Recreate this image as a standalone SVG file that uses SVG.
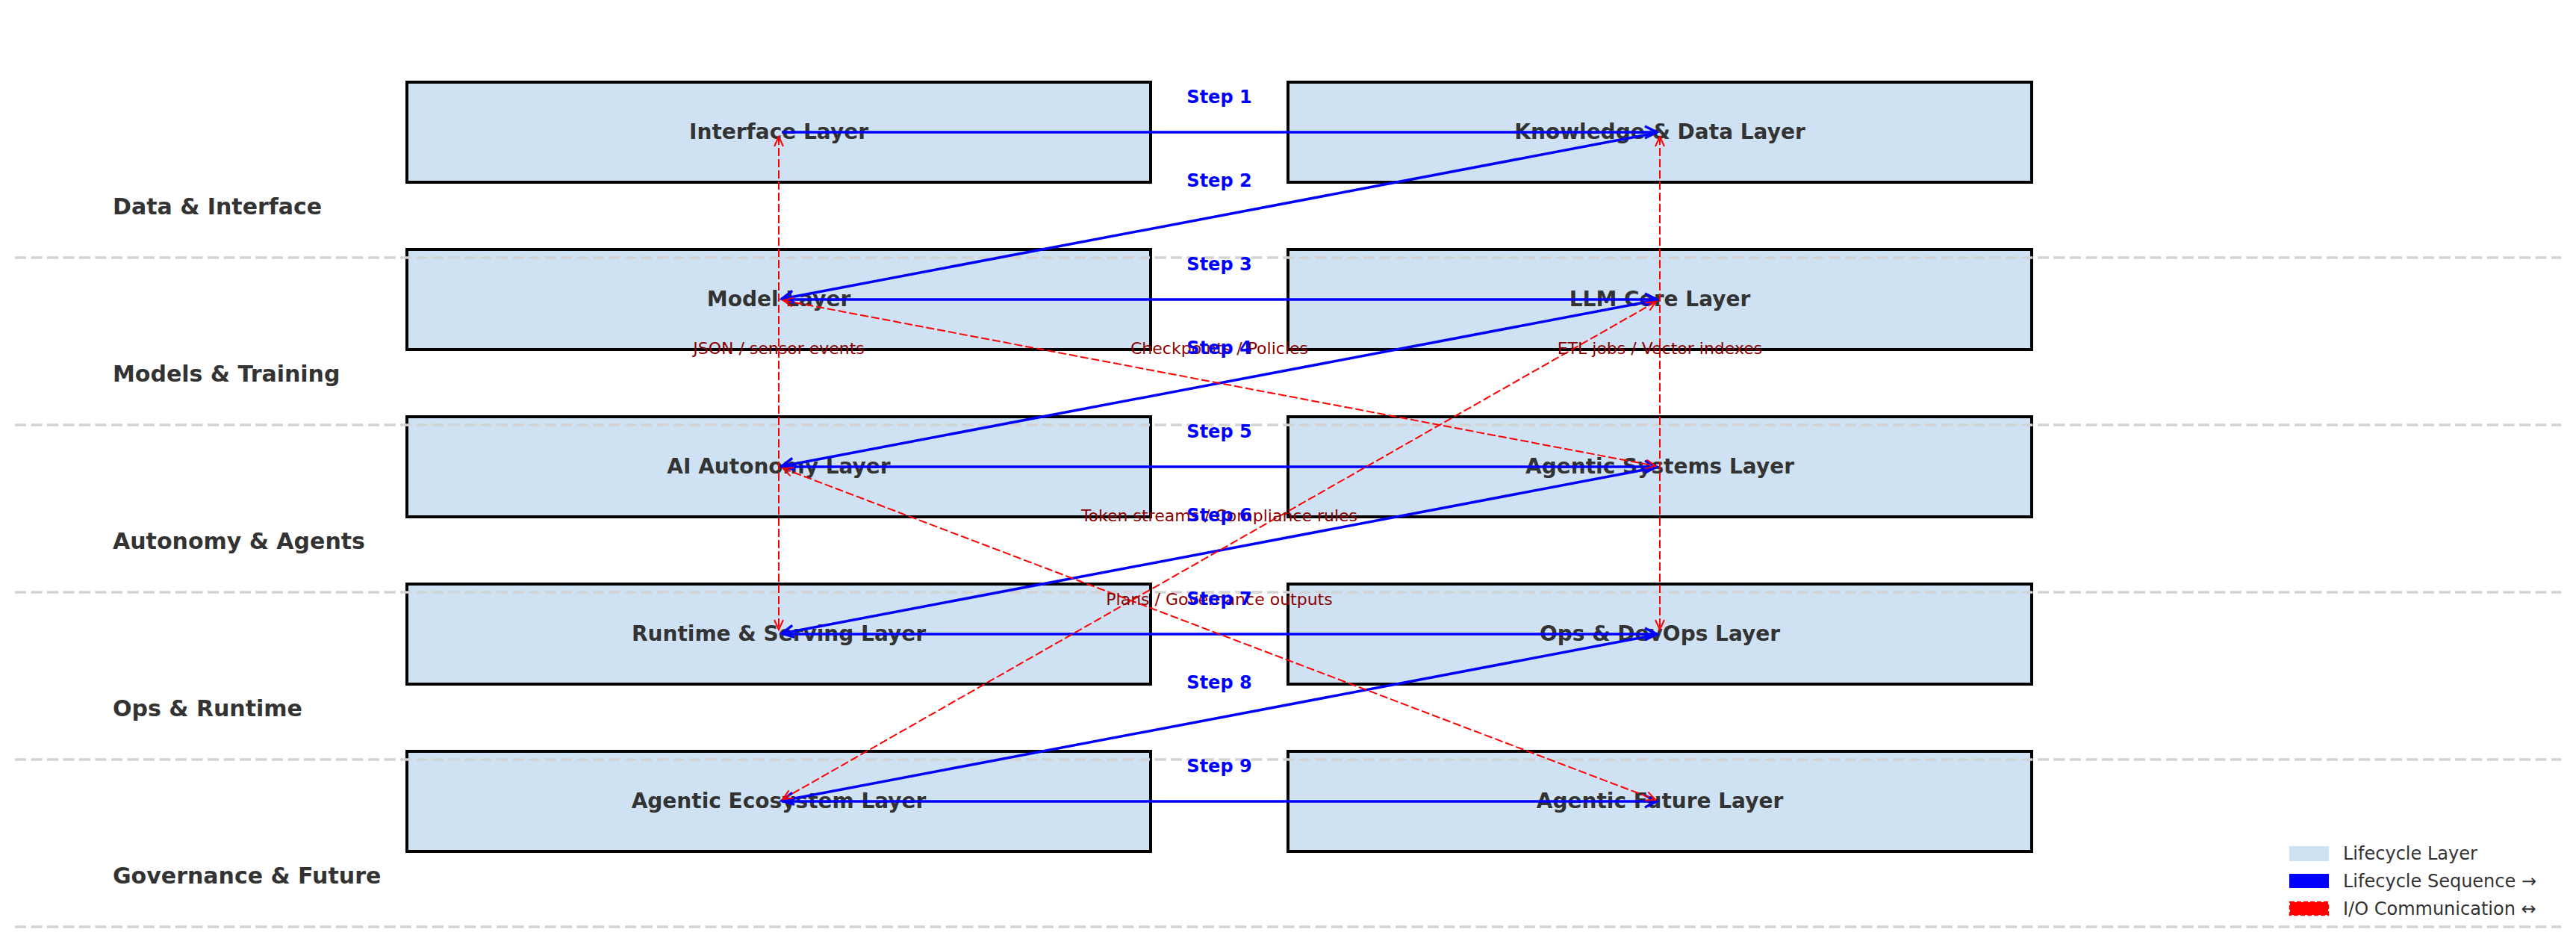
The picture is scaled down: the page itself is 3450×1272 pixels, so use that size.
<svg xmlns="http://www.w3.org/2000/svg" width="3450" height="1272" viewBox="0 0 3450 1272">
<style>
.box{fill:#cfe2f3;stroke:#000;stroke-width:4}
.nl{font-family:"DejaVu Sans",sans-serif;font-weight:bold;font-size:28px;fill:#333;text-anchor:middle}
.rl{font-family:"DejaVu Sans",sans-serif;font-weight:bold;font-size:30px;fill:#333}
.sl{font-family:"DejaVu Sans",sans-serif;font-weight:bold;font-size:24px;fill:#0000ff;text-anchor:middle}
.io{font-family:"DejaVu Sans",sans-serif;font-size:22px;fill:#8b0000;text-anchor:middle}
.lg{font-family:"DejaVu Sans",sans-serif;font-size:24px;fill:#333}
.sep{stroke:#d3d3d3;stroke-width:3.5;stroke-dasharray:15,6.5;fill:none}
.seq{stroke:#0000ff;stroke-width:3.5;fill:none;marker-end:url(#ab)}
.ioc{stroke:#ff0000;stroke-width:2;stroke-dasharray:11,4;fill:none;marker-end:url(#ar);marker-start:url(#ar)}
</style>
<defs>
<marker id="ab" viewBox="-20 -10 24 20" refX="0" refY="0" markerWidth="24" markerHeight="20" orient="auto" markerUnits="userSpaceOnUse"><path d="M-16,-8 L0,0 L-16,8" fill="none" stroke="#0000ff" stroke-width="3.5"/></marker>
<marker id="ar" viewBox="-16 -8 20 16" refX="0" refY="0" markerWidth="20" markerHeight="16" orient="auto-start-reverse" markerUnits="userSpaceOnUse"><path d="M-13,-6 L0,0 L-13,6" fill="none" stroke="#ff0000" stroke-width="2"/></marker>
</defs>
<rect width="3450" height="1272" fill="#fff"/>
<g id="nodes">
<g id="interface"><rect class="box" x="545" y="110" width="996" height="134"/><text class="nl" x="1043" y="186">Interface Layer</text></g>
<g id="knowledge"><rect class="box" x="1725" y="110" width="996" height="134"/><text class="nl" x="2223" y="186">Knowledge &amp; Data Layer</text></g>
<g id="model"><rect class="box" x="545" y="334" width="996" height="134"/><text class="nl" x="1043" y="410">Model Layer</text></g>
<g id="llm"><rect class="box" x="1725" y="334" width="996" height="134"/><text class="nl" x="2223" y="410">LLM Core Layer</text></g>
<g id="autonomy"><rect class="box" x="545" y="558" width="996" height="134"/><text class="nl" x="1043" y="634">AI Autonomy Layer</text></g>
<g id="agentic"><rect class="box" x="1725" y="558" width="996" height="134"/><text class="nl" x="2223" y="634">Agentic Systems Layer</text></g>
<g id="runtime"><rect class="box" x="545" y="782" width="996" height="134"/><text class="nl" x="1043" y="858">Runtime &amp; Serving Layer</text></g>
<g id="ops"><rect class="box" x="1725" y="782" width="996" height="134"/><text class="nl" x="2223" y="858">Ops &amp; DevOps Layer</text></g>
<g id="ecosystem"><rect class="box" x="545" y="1006" width="996" height="134"/><text class="nl" x="1043" y="1082">Agentic Ecosystem Layer</text></g>
<g id="future"><rect class="box" x="1725" y="1006" width="996" height="134"/><text class="nl" x="2223" y="1082">Agentic Future Layer</text></g>
</g>
<g id="bands">
<line class="sep" x1="20" y1="345" x2="3430" y2="345"/>
<line class="sep" x1="20" y1="569" x2="3430" y2="569"/>
<line class="sep" x1="20" y1="793" x2="3430" y2="793"/>
<line class="sep" x1="20" y1="1017" x2="3430" y2="1017"/>
<line class="sep" x1="20" y1="1241" x2="3430" y2="1241"/>
<text class="rl" x="151" y="287">Data &amp; Interface</text>
<text class="rl" x="151" y="511">Models &amp; Training</text>
<text class="rl" x="151" y="735">Autonomy &amp; Agents</text>
<text class="rl" x="151" y="959">Ops &amp; Runtime</text>
<text class="rl" x="151" y="1183">Governance &amp; Future</text>
</g>
<g id="connectors">
<line class="seq" x1="1047" y1="177" x2="2219" y2="177"/>
<line class="seq" x1="2219.07" y1="177.75" x2="1046.93" y2="400.25"/>
<line class="seq" x1="1047" y1="401" x2="2219" y2="401"/>
<line class="seq" x1="2219.07" y1="401.75" x2="1046.93" y2="624.25"/>
<line class="seq" x1="1047" y1="625" x2="2219" y2="625"/>
<line class="seq" x1="2219.07" y1="625.75" x2="1046.93" y2="848.25"/>
<line class="seq" x1="1047" y1="849" x2="2219" y2="849"/>
<line class="seq" x1="2219.07" y1="849.75" x2="1046.93" y2="1072.25"/>
<line class="seq" x1="1047" y1="1073" x2="2219" y2="1073"/>
<line class="ioc" x1="1043" y1="183" x2="1043" y2="843"/>
<line class="ioc" x1="2223" y1="183" x2="2223" y2="843"/>
<line class="ioc" x1="1048.89" y1="402.12" x2="2217.11" y2="623.88"/>
<line class="ioc" x1="2217.79" y1="403.97" x2="1048.21" y2="1070.03"/>
<line class="ioc" x1="1048.61" y1="627.13" x2="2217.39" y2="1070.87"/>
<text class="io" x="1043" y="474">JSON / sensor events</text>
<text class="io" x="2223" y="474">ETL jobs / Vector indexes</text>
<text class="io" x="1633" y="474">Checkpoints / Policies</text>
<text class="io" x="1633" y="698">Token streams / Compliance rules</text>
<text class="io" x="1633" y="810">Plans / Governance outputs</text>
<text class="sl" x="1633" y="138">Step 1</text>
<text class="sl" x="1633" y="250">Step 2</text>
<text class="sl" x="1633" y="362">Step 3</text>
<text class="sl" x="1633" y="474">Step 4</text>
<text class="sl" x="1633" y="586">Step 5</text>
<text class="sl" x="1633" y="698">Step 6</text>
<text class="sl" x="1633" y="810">Step 7</text>
<text class="sl" x="1633" y="922">Step 8</text>
<text class="sl" x="1633" y="1034">Step 9</text>
</g>
<g id="legend">
<rect x="3066" y="1133" width="53" height="20" fill="#cfe2f3"/>
<rect x="3066" y="1170" width="53" height="19" fill="#0000ff"/>
<rect x="3067" y="1208" width="51" height="17" fill="#ff0000" stroke="#ff0000" stroke-width="2.5" stroke-dasharray="6,3"/>
<text class="lg" x="3138" y="1151">Lifecycle Layer</text>
<text class="lg" x="3138" y="1188">Lifecycle Sequence →</text>
<text class="lg" x="3138" y="1225">I/O Communication ↔</text>
</g>
</svg>
